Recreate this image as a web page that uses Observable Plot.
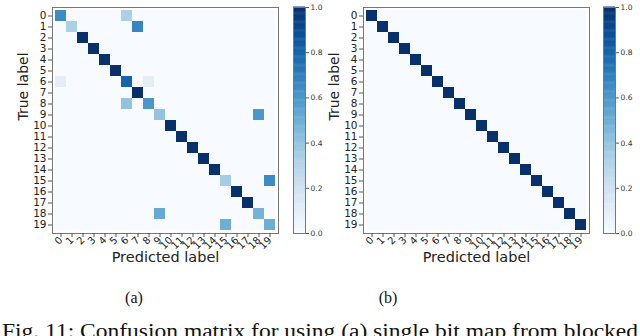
<!DOCTYPE html>
<html>
<head>
<meta charset="utf-8">
<script src="https://cdn.jsdelivr.net/npm/d3@7"></script>
<script src="https://cdn.jsdelivr.net/npm/@observablehq/plot@0.6"></script>
<style>
  html, body { margin: 0; padding: 0; background: white; }
  #root { position: relative; width: 640px; height: 336px; overflow: hidden; background: white; }
  #root > .abs { position: absolute; }
  svg { overflow: visible; }
</style>
</head>
<body>
<div id="root"></div>
<script>
// ---- data ----
const labels = ["0","1","2","3","4","5","6","7","8","9","10","11","12","13","14","15","16","17","18","19"];
const cbTicks = [0, 0.2, 0.4, 0.6, 0.8, 1.0];

// (a) nonzero entries of normalized confusion matrix
const rowsA = [0, 0, 1, 1, 2, 3, 4, 5, 6, 6, 6, 7, 8, 8, 9, 9, 10, 11, 12, 13, 14, 15, 15, 16, 17, 18, 18, 19, 19];
const colsA = [0, 6, 1, 7, 2, 3, 4, 5, 0, 6, 8, 7, 6, 8, 9, 18, 10, 11, 12, 13, 14, 15, 19, 16, 17, 9, 18, 15, 19];
const valsA = [0.65, 0.33, 0.33, 0.67, 1, 1, 1, 1, 0.1, 0.8, 0.1, 1, 0.4, 0.6, 0.4, 0.6, 1, 1, 1, 1, 1, 0.35, 0.65, 1, 1, 0.52, 0.48, 0.5, 0.5];

// (b) nonzero entries
const rowsB = [0, 1, 2, 3, 4, 5, 6, 7, 8, 9, 10, 11, 12, 13, 14, 15, 16, 17, 18, 19];
const colsB = [0, 1, 2, 3, 4, 5, 6, 7, 8, 9, 10, 11, 12, 13, 14, 15, 16, 17, 18, 19];
const valsB = [1, 1, 1, 1, 1, 1, 1, 1, 1, 1, 1, 1, 1, 1, 1, 1, 1, 1, 1, 1];

const subCaptions = ["(a)", "(b)"];
const figCaption = "Fig. 11: Confusion matrix for using (a) single bit map from blocked";
const xTitle = "Predicted label";
const yTitle = "True label";

// ---- helpers ----
const root = document.getElementById("root");
function place(node, left, top) {
  node.classList.add("abs");
  node.style.left = left + "px";
  node.style.top = top + "px";
  root.appendChild(node);
}

function buildTable(rows, cols, vals) {
  const m = new Map();
  rows.forEach((r, i) => m.set(r + "," + cols[i], vals[i]));
  const t = [];
  for (let r = 0; r < labels.length; r++)
    for (let c = 0; c < labels.length; c++)
      t.push({ t: labels[r], p: labels[c], v: m.get(r + "," + c) ?? 0 });
  return t;
}

const color = { type: "linear", scheme: "blues", domain: [0, 1] };

function matrixPlot(rows, cols, vals) {
  const table = buildTable(rows, cols, vals);
  return Plot.plot({
    width: 290, height: 270,
    marginLeft: 52, marginRight: 12, marginTop: 7, marginBottom: 37,
    style: { fontFamily: "DejaVu Sans", fontSize: "10.5px", color: "#222", background: "transparent" },
    x: { domain: labels, padding: 0, axis: null },
    y: { domain: labels, padding: 0, axis: null },
    color,
    marks: [
      Plot.cell(table, { x: "p", y: "t", fill: "v" }),
      Plot.frame({ stroke: "#777", strokeWidth: 1 }),
      Plot.axisY({ tickSize: 4, tickPadding: 2, label: null, stroke: "#555", fontSize: 10.5 }),
      Plot.axisX({ tickSize: 4, tickPadding: 1, tickRotate: -45, label: null, stroke: "#555", fontSize: 10 }),
      Plot.text([xTitle], { text: d => d, frameAnchor: "bottom", dy: 28, fontSize: 14.5, fill: "#222" }),
      Plot.text([yTitle], { text: d => d, frameAnchor: "left", dx: -29, rotate: -90, fontSize: 14, fill: "#222" })
    ]
  });
}

function colorbarPlot() {
  const step = 0.005;
  const ramp = d3.range(0, 1, step);
  return Plot.plot({
    width: 45, height: 240,
    marginLeft: 8, marginRight: 25, marginTop: 7, marginBottom: 7,
    style: { fontFamily: "DejaVu Sans", fontSize: "7.5px", color: "#333", background: "transparent" },
    x: { domain: [0, 1], axis: null },
    y: { domain: [0, 1], axis: null },
    color,
    marks: [
      Plot.rect(ramp, { x1: 0, x2: 1, y1: d => d, y2: d => d + step + 0.002, fill: d => d + step / 2 }),
      Plot.frame({ stroke: "#777" }),
      Plot.axisY({ anchor: "right", ticks: cbTicks, tickFormat: d3.format(".1f"), tickSize: 3, tickPadding: 2, label: null, stroke: "#555" })
    ]
  });
}

// ---- layout ----
place(matrixPlot(rowsA, colsA, valsA), 0, 0);
place(colorbarPlot(), 285, 0);
place(matrixPlot(rowsB, colsB, valsB), 311, 0);
place(colorbarPlot(), 595, 0);

// captions
const ns = "http://www.w3.org/2000/svg";
const cap = document.createElementNS(ns, "svg");
cap.setAttribute("width", 640);
cap.setAttribute("height", 336);
cap.style.pointerEvents = "none";
const capX = [134, 388];
subCaptions.forEach((s, i) => {
  const t = document.createElementNS(ns, "text");
  t.setAttribute("x", capX[i]);
  t.setAttribute("y", 303);
  t.setAttribute("text-anchor", "middle");
  t.setAttribute("font-family", "Liberation Serif");
  t.setAttribute("font-size", "16");
  t.setAttribute("fill", "#111");
  t.textContent = s;
  cap.appendChild(t);
});
const fc = document.createElementNS(ns, "text");
fc.setAttribute("x", 2);
fc.setAttribute("y", 338);
fc.setAttribute("font-family", "Liberation Serif");
fc.setAttribute("font-size", "20");
fc.setAttribute("fill", "#111");
fc.setAttribute("textLength", "636");
fc.setAttribute("lengthAdjust", "spacingAndGlyphs");
fc.textContent = figCaption;
cap.appendChild(fc);
place(cap, 0, 0);
</script>
</body>
</html>
